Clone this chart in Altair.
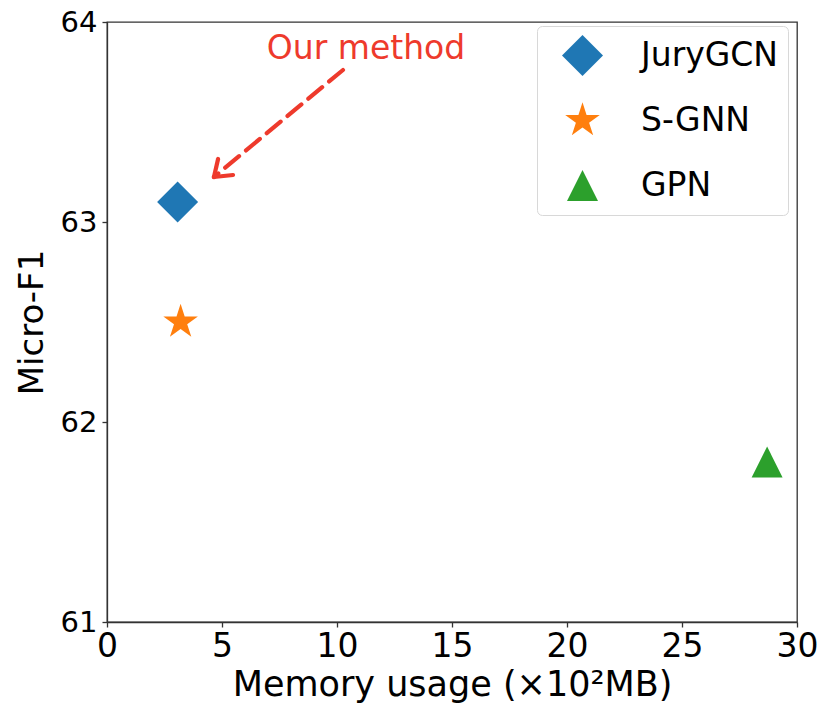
import math
import altair as alt
import pandas as pd

methods = ["JuryGCN", "S-GNN", "GPN"]
memory = [3.07, 3.2, 28.7]
micro_f1 = [63.1, 62.5, 61.8]
colors = ["#1f77b4", "#ff7f0e", "#2ca02c"]
sizes = [1680, 960, 900]

x_ticks = [0, 5, 10, 15, 20, 25, 30]
y_ticks = [61, 62, 63, 64]

note_text = ["Our method"]
note_x = [11.26]
note_y = [63.865]

arrow_x = [10.26]
arrow_y = [63.76]
arrow_x2 = [4.65]
arrow_y2 = [63.225]

head_x = [4.65, 4.65]
head_y = [63.225, 63.225]
head_x2 = [4.83, 5.48]
head_y2 = [63.315, 63.235]

RED = "#ee3a2c"
FONT = "DejaVu Sans"

# five-pointed star outline as an SVG path in the [-1, 1] symbol box
_pts = []
for k in range(10):
    r = 1.0 if k % 2 == 0 else 0.382
    a = -math.pi / 2 + k * math.pi / 5
    _pts.append(f"{r * math.cos(a):.4f},{r * math.sin(a):.4f}")
STAR = "M" + " L".join(_pts) + " Z"
TRIANGLE = "M0,-1 L-1,1 L1,1 Z"
shapes = ["diamond", STAR, TRIANGLE]

df = pd.DataFrame({"method": methods, "memory": memory, "f1": micro_f1})

xscale = alt.Scale(domain=[0, 30], nice=False, zero=False)
yscale = alt.Scale(domain=[61, 64], nice=False, zero=False)

x_axis = alt.Axis(title="Memory usage (×10²MB)", values=x_ticks, format="d", labelFlush=False,
                  labelOverlap=False, labelFontSize=33, titleFontSize=35, labelPadding=3, titlePadding=4)
y_axis = alt.Axis(title="Micro-F1", values=y_ticks, format="d", labelFlush=False,
                  labelOverlap=False, labelFontSize=29, titleFontSize=34, labelPadding=5, titlePadding=11)

points = alt.Chart(df).mark_point(filled=True, opacity=1).encode(
    x=alt.X("memory:Q", scale=xscale, axis=x_axis),
    y=alt.Y("f1:Q", scale=yscale, axis=y_axis),
    color=alt.Color("method:N", scale=alt.Scale(domain=methods, range=colors),
                    legend=alt.Legend(title=None)),
    shape=alt.Shape("method:N", scale=alt.Scale(domain=methods, range=shapes),
                    legend=alt.Legend(title=None)),
    size=alt.Size("method:N", scale=alt.Scale(domain=methods, range=sizes),
                  legend=alt.Legend(title=None)),
)

ann = pd.DataFrame({"x": arrow_x, "y": arrow_y, "x2": arrow_x2, "y2": arrow_y2})
shaft = alt.Chart(ann).mark_rule(color=RED, strokeWidth=4.2, strokeDash=[18, 9], strokeCap="round").encode(
    x=alt.X("x:Q", scale=xscale, axis=x_axis), y=alt.Y("y:Q", scale=yscale, axis=y_axis),
    x2="x2:Q", y2="y2:Q",
)

head = pd.DataFrame({"x": head_x, "y": head_y, "x2": head_x2, "y2": head_y2})
head_marks = alt.Chart(head).mark_rule(color=RED, strokeWidth=4.2, strokeCap="round").encode(
    x=alt.X("x:Q", scale=xscale, axis=x_axis), y=alt.Y("y:Q", scale=yscale, axis=y_axis),
    x2="x2:Q", y2="y2:Q",
)

txt = pd.DataFrame({"t": note_text, "x": note_x, "y": note_y})
label = alt.Chart(txt).mark_text(color=RED, fontSize=33, font=FONT, align="center", baseline="middle").encode(
    x=alt.X("x:Q", scale=xscale, axis=x_axis), y=alt.Y("y:Q", scale=yscale, axis=y_axis), text="t:N",
)

chart = alt.layer(points, shaft, head_marks, label).properties(
    width=690, height=600,
    autosize=alt.AutoSizeParams(type="none"),
    padding={"left": 107, "top": 22, "right": 21, "bottom": 89},
).configure_view(
    stroke="#333333", strokeWidth=1.3,
).configure_axis(
    domainColor="#333333", domainWidth=1.3, tickColor="#333333", tickWidth=1.3, tickSize=5,
    grid=False, labelFont=FONT, titleFont=FONT, labelColor="black", titleColor="black",
    titleFontWeight="normal",
).configure_legend(
    orient="none", legendX=430, legendY=4,
    padding=9, rowPadding=24, clipHeight=41, symbolOffset=16, labelOffset=38,
    labelFont=FONT, labelFontSize=33, labelColor="black",
    strokeColor="#d8d8d8", fillColor="white", cornerRadius=5,
    symbolStrokeWidth=0, symbolOpacity=1,
)

chart.save("out.html", embed_options={"renderer": "svg", "actions": False})
